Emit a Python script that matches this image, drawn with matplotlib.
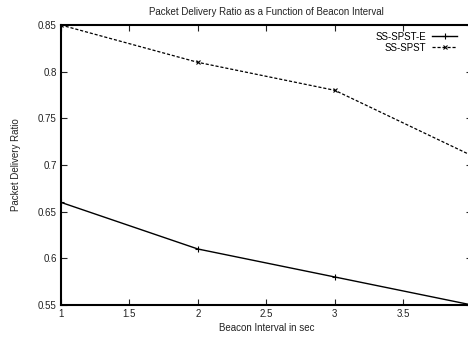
import matplotlib.pyplot as plt

plt.rcParams['font.family'] = ['Liberation Sans', 'DejaVu Sans']

beacon = [1, 2, 3, 4]
pdr_spst_e = [0.66, 0.61, 0.58, 0.55]
pdr_spst = [0.85, 0.81, 0.78, 0.71]
xticks = [1, 1.5, 2, 2.5, 3, 3.5, 4]
xticklabels = ['1', '1.5', '2', '2.5', '3', '3.5', '']
yticks = [0.55, 0.6, 0.65, 0.7, 0.75, 0.8, 0.85]
yticklabels = ['0.55', '0.6', '0.65', '0.7', '0.75', '0.8', '0.85']

fig = plt.figure(figsize=(4.68, 3.41), dpi=100)
ax = fig.add_axes([0.130, 0.1056, 0.8782, 0.8211])

ax.plot(beacon, pdr_spst_e, color='black', lw=1.0, marker='+', ms=4,
        mew=0.8, label='SS-SPST-E')
ax.plot(beacon, pdr_spst, color='black', lw=0.9, ls=(0, (2.5, 1.5)),
        marker='x', ms=3.5, mew=0.8, label='SS-SPST')

ax.set_xlim(1, 4)
ax.set_ylim(0.55, 0.85)
ax.set_xticks(xticks)
ax.set_yticks(yticks)
ax.set_xticklabels(xticklabels)
ax.set_yticklabels(yticklabels)
ax.tick_params(direction='in', top=True, right=True, length=4, width=0.8,
               labelsize=7, pad=3, colors='#222222')
for side in ['left', 'top', 'bottom', 'right']:
    ax.spines[side].set_linewidth(1.5)

ax.set_title('Packet Delivery Ratio as a Function of Beacon Interval',
             fontsize=7, pad=7, color='#222222')
ax.set_xlabel('Beacon Interval in sec', fontsize=7, labelpad=3, color='#222222')
ax.set_ylabel('Packet Delivery Ratio', fontsize=7, labelpad=12, color='#222222')

fig.legend(loc='upper right', bbox_to_anchor=(462 / 468, 1 - 27 / 341),
           frameon=False, markerfirst=False, fontsize=7, handlelength=2.6,
           handletextpad=0.6, labelspacing=0.1, borderpad=0)

fig.savefig('out.png', dpi=100)
